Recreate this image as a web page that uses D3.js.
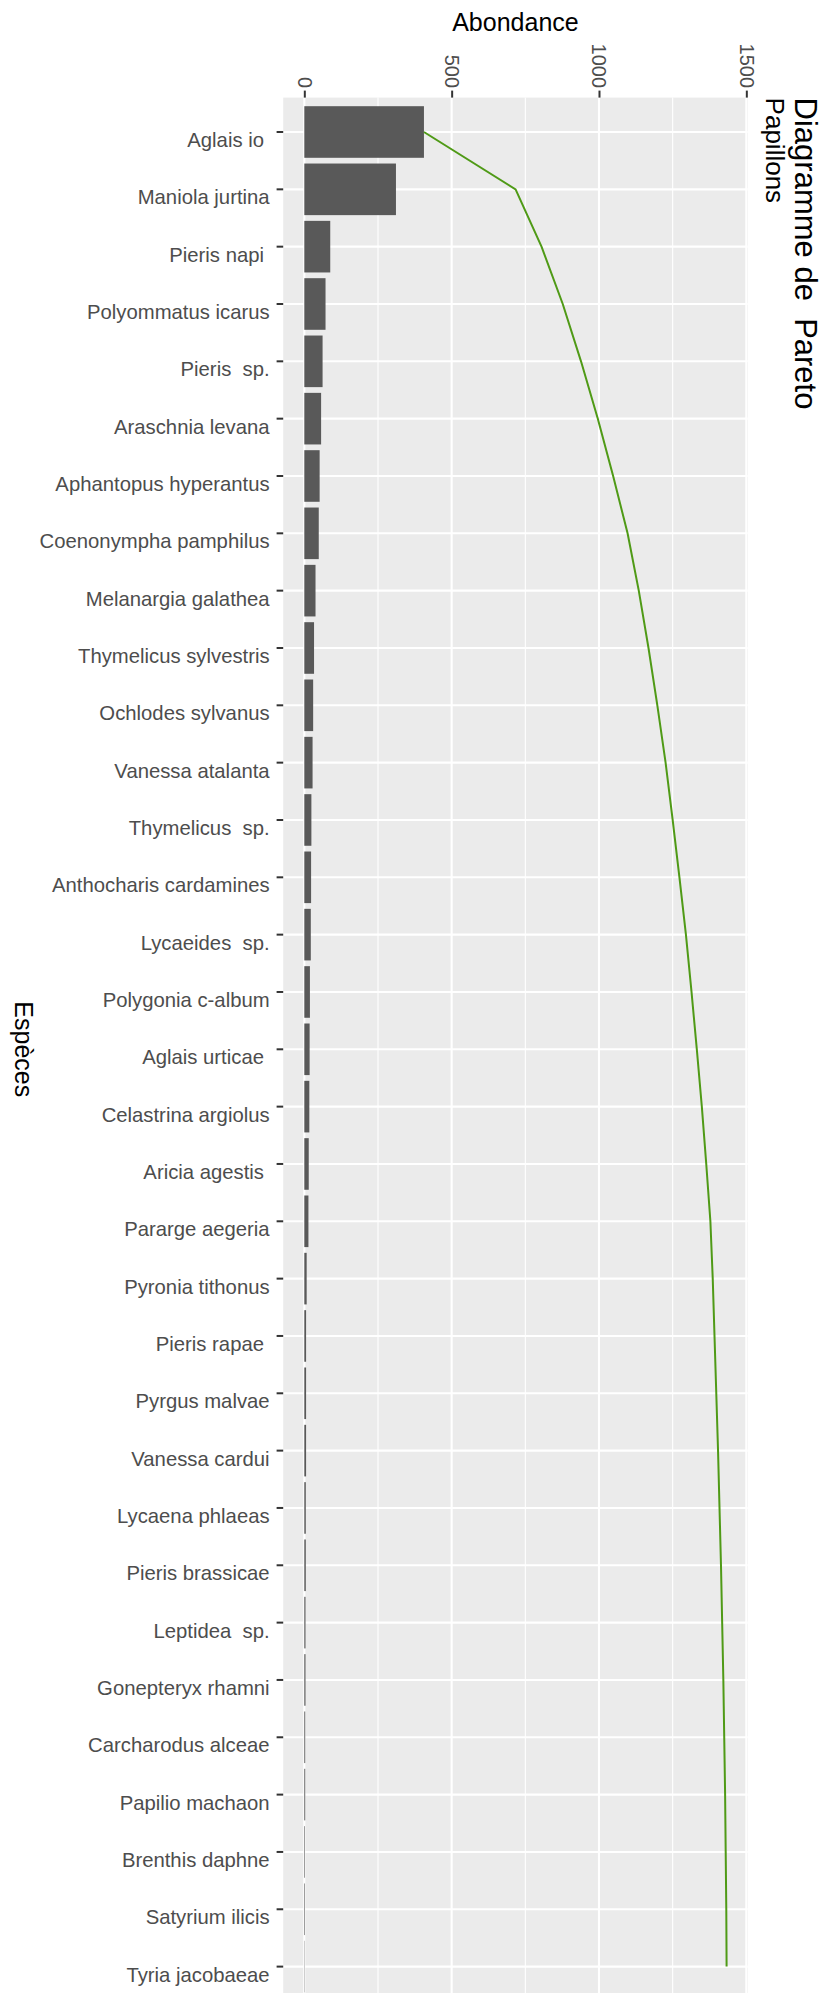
<!DOCTYPE html>
<html>
<head>
<meta charset="utf-8">
<script src="https://cdn.jsdelivr.net/npm/d3@7"></script>
<style>
  body { margin: 0; background: #fff; }
  text { font-family: "Liberation Sans", Arial, sans-serif; }
</style>
</head>
<body>
<div id="pareto"></div>
<script>
// species, in the order of the chart (largest first); some labels keep their trailing / double spaces
const species = [
  "Aglais io ", "Maniola jurtina", "Pieris napi ", "Polyommatus icarus", "Pieris  sp.",
  "Araschnia levana", "Aphantopus hyperantus", "Coenonympha pamphilus", "Melanargia galathea",
  "Thymelicus sylvestris", "Ochlodes sylvanus", "Vanessa atalanta", "Thymelicus  sp.",
  "Anthocharis cardamines", "Lycaeides  sp.", "Polygonia c-album", "Aglais urticae ",
  "Celastrina argiolus", "Aricia agestis ", "Pararge aegeria", "Pyronia tithonus",
  "Pieris rapae ", "Pyrgus malvae", "Vanessa cardui", "Lycaena phlaeas", "Pieris brassicae",
  "Leptidea  sp.", "Gonepteryx rhamni", "Carcharodus alceae", "Papilio machaon",
  "Brenthis daphne", "Satyrium ilicis", "Tyria jacobaeae"
];
const abundance = [
  406, 311, 88, 72, 62,
  57, 52, 49, 38,
  33, 30, 28, 24,
  23, 22, 19, 18,
  17, 15, 14, 8,
  6, 6, 6, 5, 5,
  4, 4, 3, 3,
  2, 2, 1
];
const xTicks = [0, 500, 1000, 1500];
const xMinorTicks = [250, 750, 1250];
const chartTitle = "Diagramme de  Pareto";
const chartSubtitle = "Papillons";
const xLabel = "Abondance";
const yLabel = "Espèces";

const width = 837;
const height = 1993;
const panel = {left: 283.2, right: 747.7, top: 97.6, bottom: 2001};

const svg = d3.select("#pareto")
  .append("svg")
  .attr("width", width)
  .attr("height", height);

const total = d3.sum(abundance);
const cumul = Array.from(d3.cumsum(abundance));

// ggplot style 5% expansion on the value axis
const x = d3.scaleLinear()
  .domain([-0.05 * total, 1.05 * total])
  .range([panel.left, panel.right]);

const y = d3.scaleBand()
  .domain(species)
  .range([panel.top, panel.bottom])
  .paddingInner(0.1)
  .paddingOuter(0.15);

const yMid = (s) => y(s) + y.bandwidth() / 2;

// panel background
svg.append("rect")
  .attr("x", panel.left)
  .attr("y", panel.top)
  .attr("width", panel.right - panel.left)
  .attr("height", panel.bottom - panel.top)
  .attr("fill", "#EBEBEB");

// grid
svg.append("g").selectAll("line")
  .data(xMinorTicks)
  .join("line")
  .attr("x1", d => x(d)).attr("x2", d => x(d))
  .attr("y1", panel.top).attr("y2", panel.bottom)
  .attr("stroke", "#fff").attr("stroke-width", 1.1);

svg.append("g").selectAll("line")
  .data(xTicks)
  .join("line")
  .attr("x1", d => x(d)).attr("x2", d => x(d))
  .attr("y1", panel.top).attr("y2", panel.bottom)
  .attr("stroke", "#fff").attr("stroke-width", 2.1);

svg.append("g").selectAll("line")
  .data(species)
  .join("line")
  .attr("x1", panel.left).attr("x2", panel.right)
  .attr("y1", d => yMid(d)).attr("y2", d => yMid(d))
  .attr("stroke", "#fff").attr("stroke-width", 2.1);

// bars
svg.append("g").selectAll("rect")
  .data(species)
  .join("rect")
  .attr("x", x(0))
  .attr("y", d => y(d))
  .attr("width", (d, i) => x(abundance[i]) - x(0))
  .attr("height", y.bandwidth())
  .attr("fill", "#595959");

// cumulated line
const line = d3.line()
  .x((d, i) => x(cumul[i]))
  .y(d => yMid(d));

svg.append("path")
  .datum(species)
  .attr("d", line)
  .attr("fill", "none")
  .attr("stroke", "#4f9a16")
  .attr("stroke-width", 2);

// value axis on top, labels turned a quarter
const xAxis = svg.append("g")
  .attr("transform", `translate(0,${panel.top})`)
  .call(d3.axisTop(x).tickValues(xTicks).tickFormat(d3.format("d")).tickSize(7).tickSizeOuter(0));
xAxis.select(".domain").remove();
xAxis.selectAll(".tick line").attr("stroke", "#333").attr("stroke-width", 2);
xAxis.selectAll(".tick text")
  .attr("transform", "rotate(90)")
  .attr("x", -9.6)
  .attr("y", 0)
  .attr("dy", "0.36em")
  .attr("text-anchor", "end")
  .attr("font-size", 20)
  .attr("font-family", null)
  .attr("fill", "#4D4D4D");

// species axis
const yAxis = svg.append("g")
  .attr("transform", `translate(${panel.left},0)`)
  .call(d3.axisLeft(y).tickSize(6.6).tickSizeOuter(0).tickPadding(7));
yAxis.select(".domain").remove();
yAxis.selectAll(".tick line").attr("stroke", "#333").attr("stroke-width", 2);
yAxis.selectAll(".tick text")
  .attr("dy", "0.74em")
  .attr("font-size", 20.3)
  .attr("font-family", null)
  .attr("fill", "#4D4D4D")
  .style("white-space", "pre");

// titles
svg.append("text")
  .attr("x", (panel.left + panel.right) / 2)
  .attr("y", 31)
  .attr("text-anchor", "middle")
  .attr("font-size", 25)
  .attr("fill", "#000")
  .text(xLabel);

svg.append("text")
  .attr("transform", `translate(15,${(panel.top + panel.bottom) / 2}) rotate(90)`)
  .attr("text-anchor", "middle")
  .attr("font-size", 25)
  .attr("fill", "#000")
  .text(yLabel);

svg.append("text")
  .attr("transform", `translate(795,${panel.top}) rotate(90)`)
  .attr("font-size", 31)
  .attr("fill", "#000")
  .style("white-space", "pre")
  .text(chartTitle);

svg.append("text")
  .attr("transform", `translate(766,${panel.top}) rotate(90)`)
  .attr("font-size", 26)
  .attr("fill", "#000")
  .text(chartSubtitle);
</script>
</body>
</html>
